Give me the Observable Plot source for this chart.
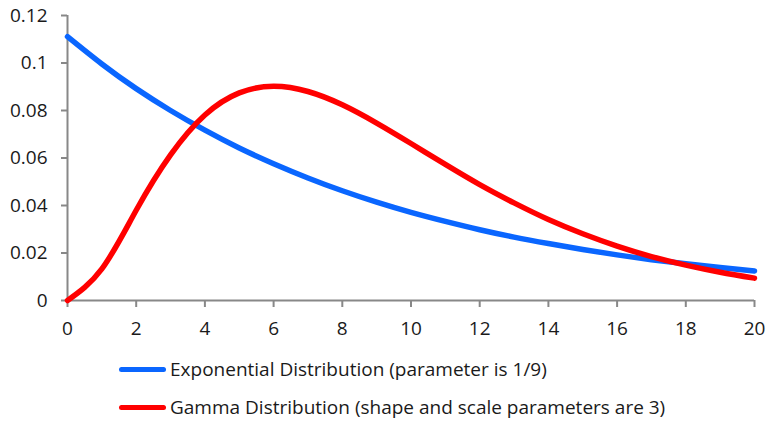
<!DOCTYPE html>
<html>
<head>
<meta charset="utf-8">
<script src="https://cdn.jsdelivr.net/npm/d3@7"></script>
<script src="https://cdn.jsdelivr.net/npm/@observablehq/plot@0.6"></script>
<style>
  body { margin: 0; background: #fff; font-family: "Open Sans", sans-serif; }
  #chart { width: 768px; height: 421px; overflow: hidden; }
  .legend { margin-left: 119px; margin-top: 28px; }
  .row { display: flex; align-items: center; height: 22px; font-size: 19px; color: #1a1a1a; }
  .row + .row { margin-top: 16px; }
  .sw { width: 47px; height: 5px; border-radius: 3px; margin-right: 4px; }
</style>
</head>
<body>
<div id="chart"></div>
<script>
const xs = [0,1,2,3,4,5,6,7,8,9,10,11,12,13,14,15,16,17,18,19,20];
const expValues = [0.1111,0.0996,0.0892,0.0800,0.0717,0.0642,0.0576,0.0516,0.0462,0.0414,0.0371,0.0333,0.0298,0.0267,0.0240,0.0215,0.0192,0.0172,0.0155,0.0139,0.0124];
const gammaValues = [0,0.0133,0.0380,0.0613,0.0781,0.0874,0.0902,0.0880,0.0824,0.0747,0.0661,0.0573,0.0488,0.0411,0.0341,0.0281,0.0229,0.0185,0.0149,0.0119,0.0094];
const seriesNames = ["Exponential Distribution (parameter is 1/9)", "Gamma Distribution (shape and scale parameters are 3)"];
const seriesColors = ["#0a66ff", "#ff0000"];
const xTicks = [0,2,4,6,8,10,12,14,16,18,20];
const yTicks = [0,0.02,0.04,0.06,0.08,0.1,0.12];

const rows = [];
xs.forEach((x, i) => {
  rows.push({x, y: expValues[i], s: seriesNames[0]});
  rows.push({x, y: gammaValues[i], s: seriesNames[1]});
});

const plot = Plot.plot({
  width: 768,
  height: 330,
  marginTop: 15,
  marginBottom: 30,
  marginLeft: 67,
  marginRight: 14,
  style: { fontFamily: "'Open Sans', sans-serif", fontSize: "19px", color: "#1a1a1a", background: "#fff", overflow: "visible" },
  x: { domain: [0, 20] },
  y: { domain: [0, 0.12] },
  color: { domain: seriesNames, range: seriesColors },
  marks: [
    Plot.ruleX([0], { stroke: "#888", strokeWidth: 2 }),
    Plot.ruleY([0], { stroke: "#888", strokeWidth: 2 }),
    Plot.axisY({ ticks: yTicks, tickSize: 6, tickPadding: 14, fontSize: 19, stroke: "#888", strokeWidth: 2, strokeOpacity: 1, tickFormat: d => String(+d.toFixed(2)), label: null, fill: "#1a1a1a" }),
    Plot.axisX({ ticks: xTicks, tickSize: 7, tickPadding: 14, fontSize: 19, stroke: "#888", strokeWidth: 2, strokeOpacity: 1, tickFormat: d => String(d), label: null, fill: "#1a1a1a" }),
    Plot.line(rows.filter(r => r.s === seriesNames[0]), { x: "x", y: "y", stroke: "s", strokeWidth: 5.5, curve: "natural" }),
    Plot.line(rows.filter(r => r.s === seriesNames[1]), { x: "x", y: "y", stroke: "s", strokeWidth: 5.5, curve: "natural" })
  ]
});

const chart = document.getElementById("chart");
chart.appendChild(plot);

const legend = document.createElement("div");
legend.className = "legend";
seriesNames.forEach((name, i) => {
  const row = document.createElement("div");
  row.className = "row";
  const sw = document.createElement("div");
  sw.className = "sw";
  sw.style.background = seriesColors[i];
  const t = document.createElement("span");
  t.textContent = name;
  row.appendChild(sw);
  row.appendChild(t);
  legend.appendChild(row);
});
chart.appendChild(legend);
</script>
</body>
</html>
